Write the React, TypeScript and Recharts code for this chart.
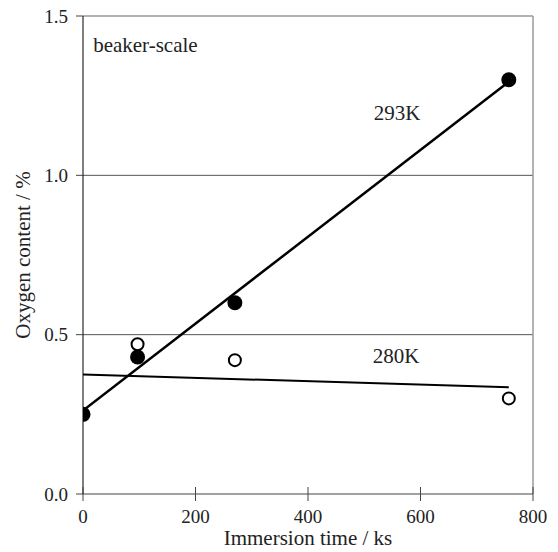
import {
  ComposedChart,
  Line,
  Scatter,
  XAxis,
  YAxis,
  ReferenceLine,
  ReferenceDot,
} from "recharts"

// measured points, immersion time (ks) vs oxygen content (%)
const timeFilled = [0, 97, 270, 757]
const oxygen293 = [0.25, 0.43, 0.6, 1.3]
const timeOpen = [97, 270, 757]
const oxygen280 = [0.47, 0.42, 0.3]

// fitted straight lines, end points
const fitTime = [0, 757]
const fit293 = [0.262, 1.294]
const fit280 = [0.375, 0.335]

const xTicks = [0, 200, 400, 600, 800]
const yTicks = [0, 0.5, 1.0, 1.5]
const gridLevels = [0.5, 1.0]

const FONT = "Liberation Serif, Tinos, Times New Roman, serif"
const textStyle = { fontFamily: FONT }

const pts293 = timeFilled.map((x, i) => ({ x, y: oxygen293[i] }))
const pts280 = timeOpen.map((x, i) => ({ x, y: oxygen280[i] }))
const line293 = fitTime.map((x, i) => ({ x, y: fit293[i] }))
const line280 = fitTime.map((x, i) => ({ x, y: fit280[i] }))

// eslint-disable-next-line @typescript-eslint/no-explicit-any
function XTick({ x, y, payload }: any) {
  const axisY = y - 7
  return (
    <g>
      <line x1={x} x2={x} y1={axisY - 7} y2={axisY} stroke="#444" strokeWidth={1} />
      <text x={x} y={axisY + 29} textAnchor="middle" fontSize={19} fill="#222" style={textStyle}>
        {payload.value}
      </text>
    </g>
  )
}

// eslint-disable-next-line @typescript-eslint/no-explicit-any
function FilledDot({ cx, cy }: any) {
  return <circle cx={cx} cy={cy} r={7.5} fill="#000" />
}

// eslint-disable-next-line @typescript-eslint/no-explicit-any
function OpenDot({ cx, cy }: any) {
  return <circle cx={cx} cy={cy} r={6} fill="#fff" stroke="#000" strokeWidth={2} />
}

function note(text: string) {
  // eslint-disable-next-line @typescript-eslint/no-explicit-any
  return (props: any) => (
    <text x={props.viewBox.x} y={props.viewBox.y} fontSize={21} fill="#222" style={textStyle}>
      {text}
    </text>
  )
}

export default function App() {
  return (
    <div
      style={{
        position: "absolute",
        left: 0,
        top: 0,
        width: 558,
        height: 552,
        background: "#fff",
        fontFamily: FONT,
      }}
    >
      <ComposedChart
        width={558}
        height={552}
        margin={{ top: 16, right: 25, bottom: 0, left: 0 }}
        style={textStyle}
      >
        <XAxis
          dataKey="x"
          type="number"
          domain={[0, 800]}
          ticks={xTicks}
          height={58}
          tickSize={7}
          tickMargin={0}
          tickLine={{ stroke: "#444" }}
          axisLine={{ stroke: "#444" }}
          tick={<XTick />}
          allowDataOverflow
          label={{
            value: "Immersion time / ks",
            position: "insideBottom",
            offset: 7,
            fontSize: 21,
            fill: "#222",
            style: textStyle,
          }}
        />
        <YAxis
          dataKey="y"
          type="number"
          domain={[0, 1.5]}
          ticks={yTicks}
          width={83}
          tickSize={7}
          tickMargin={8}
          tickFormatter={(v) => Number(v).toFixed(1)}
          tick={{ fontSize: 19, fill: "#222", style: textStyle }}
          tickLine={{ stroke: "#444" }}
          axisLine={{ stroke: "#000" }}
          allowDataOverflow
          label={{
            value: "Oxygen content / %",
            angle: -90,
            position: "center",
            dx: -19,
            fontSize: 21,
            fill: "#222",
            style: textStyle,
          }}
        />
        {gridLevels.map((v) => (
          <ReferenceLine key={v} y={v} stroke="#555" strokeWidth={1} />
        ))}
        <ReferenceLine y={1.5} stroke="#9a9a9a" strokeWidth={1.5} />
        <ReferenceLine x={800} stroke="#9a9a9a" strokeWidth={1.5} />
        <Line
          data={line293}
          dataKey="y"
          stroke="#000"
          strokeWidth={2.5}
          dot={false}
          activeDot={false}
          isAnimationActive={false}
        />
        <Line
          data={line280}
          dataKey="y"
          stroke="#000"
          strokeWidth={2}
          dot={false}
          activeDot={false}
          isAnimationActive={false}
        />
        <Scatter data={pts280} dataKey="y" shape={<OpenDot />} isAnimationActive={false} />
        <Scatter data={pts293} dataKey="y" shape={<FilledDot />} isAnimationActive={false} />
        <ReferenceDot x={18} y={1.387} r={0} stroke="none" label={{ content: note("beaker-scale") }} />
        <ReferenceDot x={517} y={1.174} r={0} stroke="none" label={{ content: note("293K") }} />
        <ReferenceDot x={515} y={0.411} r={0} stroke="none" label={{ content: note("280K") }} />
      </ComposedChart>
    </div>
  )
}
